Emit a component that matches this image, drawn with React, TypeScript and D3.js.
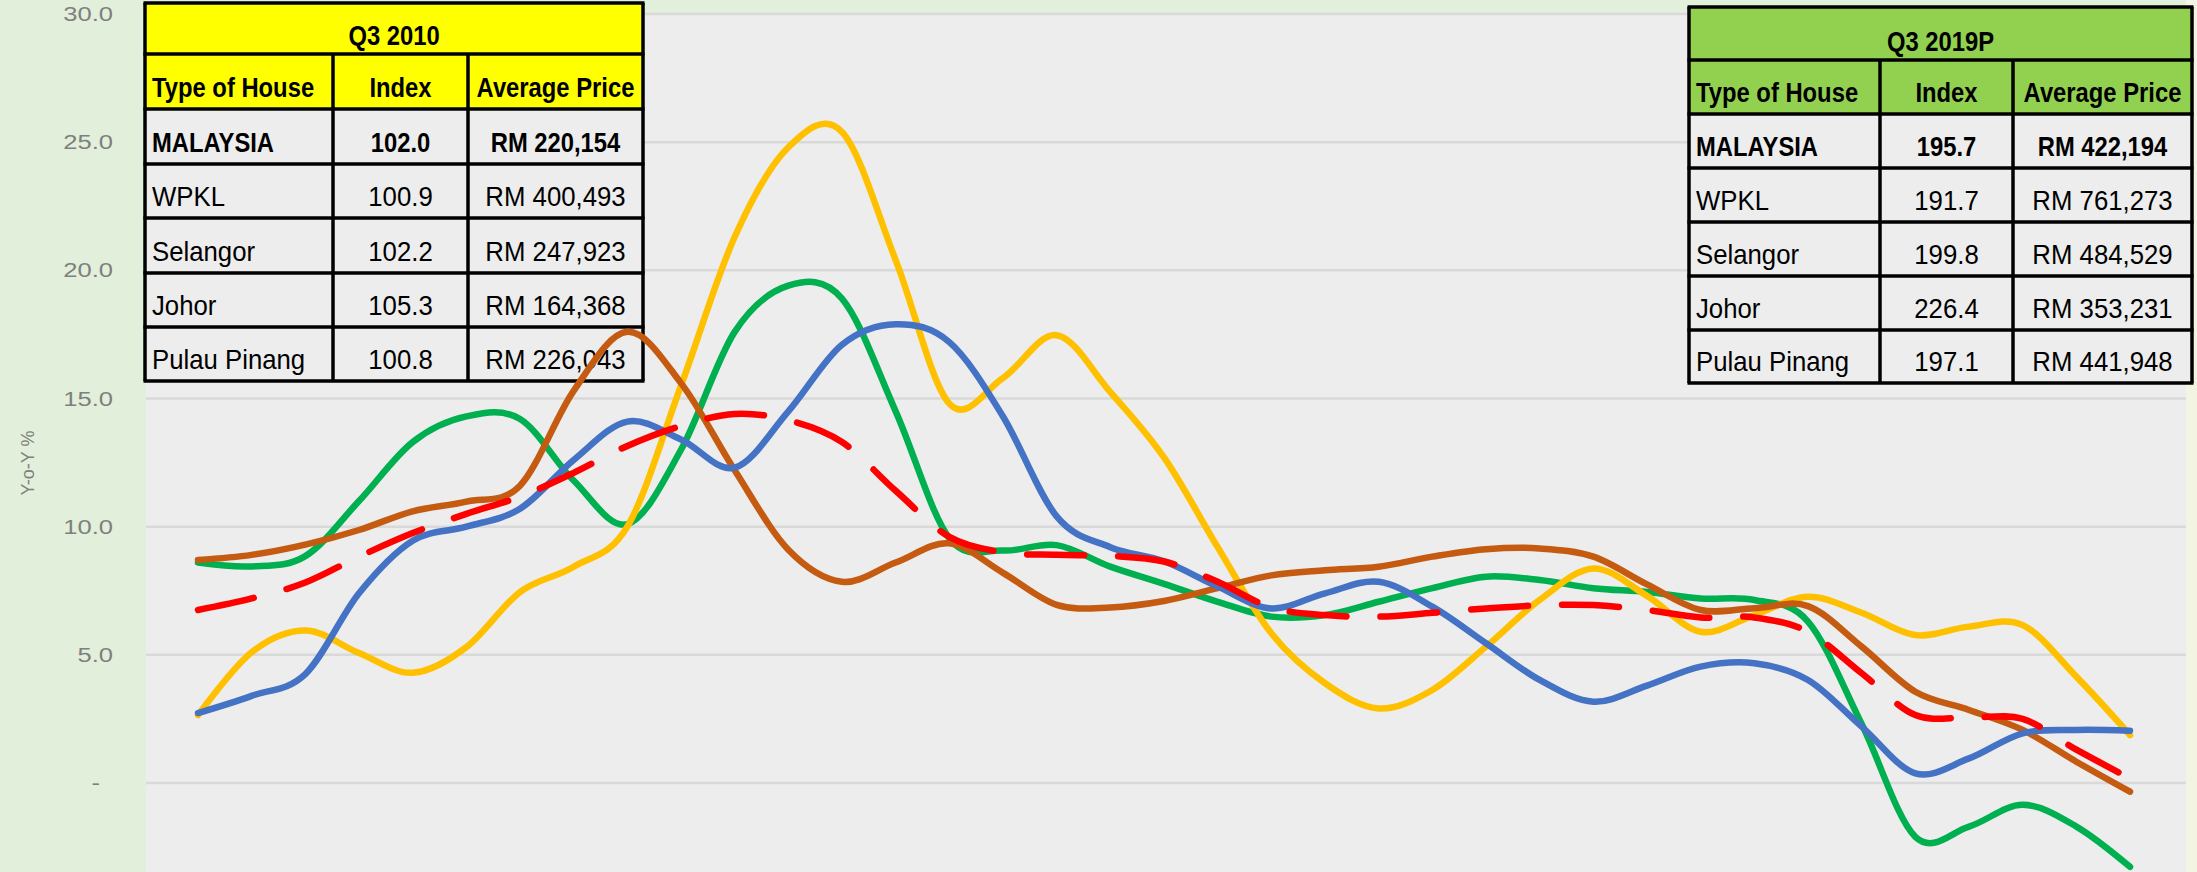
import React from 'react';
import * as d3 from 'd3';

// quarterly y-o-y change of the house price index, Q3 2010 .. Q3 2019
const quarters = [
  'Q3 2010', 'Q4 2010', 'Q1 2011', 'Q2 2011', 'Q3 2011', 'Q4 2011', 'Q1 2012', 'Q2 2012',
  'Q3 2012', 'Q4 2012', 'Q1 2013', 'Q2 2013', 'Q3 2013', 'Q4 2013', 'Q1 2014', 'Q2 2014',
  'Q3 2014', 'Q4 2014', 'Q1 2015', 'Q2 2015', 'Q3 2015', 'Q4 2015', 'Q1 2016', 'Q2 2016',
  'Q3 2016', 'Q4 2016', 'Q1 2017', 'Q2 2017', 'Q3 2017', 'Q4 2017', 'Q1 2018', 'Q2 2018',
  'Q3 2018', 'Q4 2018', 'Q1 2019', 'Q2 2019', 'Q3 2019P',
];

const malaysia = [
  6.75, 7.2, 7.82, 8.83, 9.75, 10.5, 11.17, 12.1, 13.15, 13.93, 14.4, 14.15, 13.3, 11.4,
  9.6, 9.0, 8.9, 8.86, 8.64, 7.85, 6.85, 6.55, 6.49, 6.64, 6.81, 6.93, 6.94, 6.75,
  6.46, 6.46, 5.9, 4.28, 2.65, 2.56, 2.5, 1.3, 0.18,
];
const wpkl = [
  2.73, 3.4, 4.25, 7.4, 9.45, 10.0, 10.7, 12.6, 14.1, 13.4, 12.3, 14.5, 17.1, 17.9,
  17.2, 14.3, 10.4, 9.2, 8.65, 7.66, 6.81, 7.4, 7.85, 6.88, 5.45, 4.02, 3.17, 3.8,
  4.54, 4.67, 4.02, 2.2, 0.38, 0.96, 1.94, 2.07, 2.04,
];
const selangor = [
  8.7, 8.9, 9.3, 9.87, 10.6, 10.98, 11.6, 15.3, 17.6, 15.6, 12.2, 9.1, 7.85, 8.6,
  9.35, 8.2, 6.95, 6.85, 7.1, 7.6, 8.1, 8.3, 8.44, 8.83, 9.12, 9.15, 8.83, 7.75,
  6.75, 6.82, 6.9, 5.32, 3.56, 2.85, 2.07, 0.83, -0.34,
];
const johor = [
  2.65, 5.1, 5.95, 5.07, 4.3, 5.3, 7.45, 8.44, 10.0, 15.5, 21.3, 24.8, 25.4, 20.4,
  14.8, 15.8, 17.47, 15.25, 12.7, 9.2, 5.84, 3.89, 2.91, 3.63, 5.32, 7.14, 8.37, 7.3,
  5.9, 6.55, 7.27, 6.64, 5.77, 6.1, 6.16, 4.15, 1.87,
];
const pulauPinang = [
  8.6, 8.45, 8.85, 11.0, 13.3, 14.3, 14.2, 11.8, 10.1, 13.0, 17.6, 19.4, 18.9, 14.5,
  9.55, 9.07, 9.28, 8.44, 7.77, 7.07, 6.49, 6.55, 7.07, 7.6, 8.05, 7.92, 7.6, 7.45,
  7.2, 7.14, 6.3, 2.3, -2.1, -1.7, -0.85, -1.7, -3.27,
];

const yTicks = [0, 5, 10, 15, 20, 25, 30];

// the two summary tables
const tableHeader = ['Type of House', 'Index', 'Average Price'];
const houseTypes = ['MALAYSIA', 'WPKL', 'Selangor', 'Johor', 'Pulau Pinang'];
const index2010 = ['102.0', '100.9', '102.2', '105.3', '100.8'];
const price2010 = ['RM 220,154', 'RM 400,493', 'RM 247,923', 'RM 164,368', 'RM 226,043'];
const index2019 = ['195.7', '191.7', '199.8', '226.4', '197.1'];
const price2019 = ['RM 422,194', 'RM 761,273', 'RM 484,529', 'RM 353,231', 'RM 441,948'];

const W = 2197;
const H = 872;
const plotLeft = 146;
const plotRight = 2186;
const plotTop = 13;

const FONT = '"Liberation Sans", Arial, sans-serif';

interface TableProps {
  title: string;
  fill: string;
  cols: number[];
  rows: number[];
  indices: string[];
  prices: string[];
}

const Cell = ({ x, y, text, anchor, bold }: { x: number; y: number; text: string; anchor: string; bold: boolean }) => (
  <text
    transform={`translate(${x},${y}) scale(${bold ? 0.85 : 0.92},1)`}
    textAnchor={anchor}
    fontFamily={FONT}
    fontSize={28}
    fontWeight={bold ? 'bold' : 'normal'}
    fill="#000"
  >
    {text}
  </text>
);

const SummaryTable: React.FC<TableProps> = ({ title, fill, cols, rows, indices, prices }) => {
  const left = cols[0], right = cols[cols.length - 1];
  const mid = (i: number) => (cols[i] + cols[i + 1]) / 2;
  return (
    <g>
      <rect x={left} y={rows[0]} width={right - left} height={rows[2] - rows[0]} fill={fill} />
      <rect x={left} y={rows[2]} width={right - left} height={rows[rows.length - 1] - rows[2]} fill="#ededed" />
      {rows.map((r, i) => (
        <line key={'h' + i} x1={left - 1.5} x2={right + 1.5} y1={r} y2={r} stroke="#000" strokeWidth={3.5} />
      ))}
      {cols.map((c, i) => (
        <line key={'v' + i} x1={c} x2={c} y1={i === 0 || i === cols.length - 1 ? rows[0] : rows[1]}
          y2={rows[rows.length - 1]} stroke="#000" strokeWidth={3.5} />
      ))}
      <Cell x={(left + right) / 2} y={rows[1] - 9} text={title} anchor="middle" bold />
      <Cell x={left + 7} y={rows[2] - 12} text={tableHeader[0]} anchor="start" bold />
      <Cell x={mid(1)} y={rows[2] - 12} text={tableHeader[1]} anchor="middle" bold />
      <Cell x={mid(2)} y={rows[2] - 12} text={tableHeader[2]} anchor="middle" bold />
      {houseTypes.map((h, i) => {
        const y = rows[i + 3] - 12;
        const b = i === 0;
        return (
          <g key={h}>
            <Cell x={left + 7} y={y} text={h} anchor="start" bold={b} />
            <Cell x={mid(1)} y={y} text={indices[i]} anchor="middle" bold={b} />
            <Cell x={mid(2)} y={y} text={prices[i]} anchor="middle" bold={b} />
          </g>
        );
      })}
    </g>
  );
};

const App: React.FC = () => {
  const x = d3.scalePoint<string>().domain(quarters).range([198, 2130]);
  const y = d3.scaleLinear().domain([0, 30]).range([783, 14]);

  // Excel-style smoothing: uniform Catmull-Rom
  const line = d3
    .line<number>()
    .x((_, i) => x(quarters[i]) ?? 0)
    .y(d => y(d))
    .curve(d3.curveCardinal.tension(0));

  const series = [
    { name: 'Pulau Pinang', values: pulauPinang, color: '#00b050', dash: undefined },
    { name: 'Johor', values: johor, color: '#ffc000', dash: undefined },
    { name: 'Selangor', values: selangor, color: '#c55a11', dash: undefined },
    { name: 'WPKL', values: wpkl, color: '#4472c4', dash: undefined },
    { name: 'MALAYSIA', values: malaysia, color: '#ff0000', dash: '57 34' },
  ];

  return (
    <svg width={W} height={H} style={{ position: 'absolute', left: 0, top: 0 }}>
      <rect x={0} y={0} width={W} height={H} fill="#e2efda" />
      <rect x={plotRight} y={0} width={W - plotRight} height={H} fill="#f4f4e2" />
      <rect x={plotLeft} y={plotTop} width={plotRight - plotLeft} height={H - plotTop} fill="#ededed" />

      {yTicks.map(t => (
        <g key={t}>
          <line x1={plotLeft} x2={plotRight} y1={y(t)} y2={y(t)} stroke="#d9d9d9" strokeWidth={2.5} />
          <text
            transform={`translate(${t === 0 ? 100 : 113},${y(t) + 7}) scale(1.28,1)`}
            textAnchor="end"
            fontFamily={FONT}
            fontSize={20}
            fill="#7f7f7f"
          >
            {t === 0 ? '-' : d3.format('.1f')(t)}
          </text>
        </g>
      ))}

      <text
        transform="translate(28,463) rotate(-90)"
        textAnchor="middle"
        dominantBaseline="central"
        fontFamily={FONT}
        fontSize={18}
        fill="#7f7f7f"
      >
        Y-o-Y %
      </text>

      <SummaryTable title="Q3 2010" fill="#ffff00" cols={[145, 333, 468, 643]}
        rows={[3, 54, 109, 164, 218, 273, 327, 381]} indices={index2010} prices={price2010} />
      <SummaryTable title="Q3 2019P" fill="#92d050" cols={[1689, 1880, 2013, 2192]}
        rows={[7, 60, 114, 168, 222, 276, 330, 383]} indices={index2019} prices={price2019} />

      {series.map(s => (
        <path
          key={s.name}
          d={line(s.values) ?? ''}
          fill="none"
          stroke={s.color}
          strokeWidth={6.5}
          strokeLinecap="round"
          strokeLinejoin="round"
          strokeDasharray={s.dash}
        />
      ))}
    </svg>
  );
};

export default App;
